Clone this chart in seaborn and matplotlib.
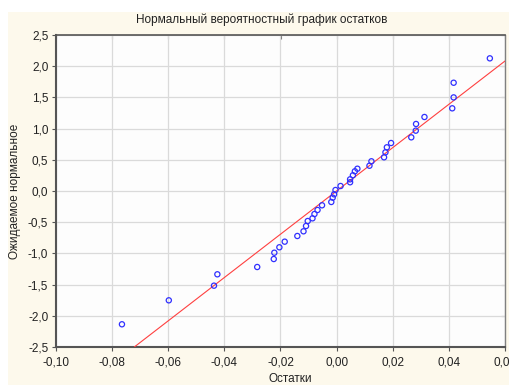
import matplotlib
matplotlib.use("Agg")
import matplotlib.pyplot as plt
import matplotlib.ticker as mticker
from matplotlib.patches import Rectangle
import seaborn as sns
import pandas as pd

residuals = [-0.0765, -0.0598, -0.0437, -0.0425, -0.0283, -0.0224, -0.0222, -0.0204,
             -0.0185, -0.0140, -0.0118, -0.0109, -0.0103, -0.0086, -0.0079, -0.0068,
             -0.0052, -0.0019, -0.0014, -0.0009, -0.0004, 0.0014, 0.0048, 0.0048,
             0.0058, 0.0065, 0.0074, 0.0117, 0.0124, 0.0169, 0.0174, 0.0179,
             0.0194, 0.0266, 0.0282, 0.0283, 0.0313, 0.0412, 0.0417, 0.0417, 0.0546]
expected_normal = [-2.136, -1.752, -1.517, -1.335, -1.218, -1.090, -0.989, -0.902,
                   -0.812, -0.721, -0.646, -0.561, -0.481, -0.438, -0.369, -0.304,
                   -0.229, -0.176, -0.107, -0.053, 0.016, 0.080, 0.140, 0.187,
                   0.252, 0.316, 0.357, 0.405, 0.476, 0.540, 0.620, 0.700,
                   0.769, 0.860, 0.967, 1.074, 1.186, 1.325, 1.500, 1.735, 2.126]
fit_x = [-0.0721, 0.0600]
fit_y = [-2.500, 2.083]
x_ticks = [-0.10, -0.08, -0.06, -0.04, -0.02, 0.00, 0.02, 0.04, 0.06]
y_ticks = [-2.5, -2.0, -1.5, -1.0, -0.5, 0.0, 0.5, 1.0, 1.5, 2.0, 2.5]

title = "Нормальный вероятностный график остатков"
xlabel = "Остатки"
ylabel = "Ожидаемое нормальное"

sns.set_theme(style="white")
plt.rcParams['font.family'] = ['Liberation Sans', 'DejaVu Sans']
plt.rcParams['font.size'] = 8.5

W, H = 510, 385
fig = plt.figure(figsize=(W / 100, H / 100), dpi=100)
fig.patch.set_facecolor("white")
fig.patches.append(Rectangle((8 / W, 0), 1 - 8 / W, 1 - 12 / H, transform=fig.transFigure,
                             facecolor="#fdf9ec", edgecolor="none", zorder=-10))

ax = fig.add_axes([56 / W, 1 - 347 / H, (505 - 56) / W, (347 - 35) / H])
ax.set_zorder(1)
ax.set_facecolor("#fdfdfd")

df = pd.DataFrame({"x": residuals, "y": expected_normal})
line_df = pd.DataFrame({"x": fit_x, "y": fit_y})

sns.lineplot(data=line_df, x="x", y="y", ax=ax, color="#ff4040", linewidth=0.8, zorder=3)
sns.scatterplot(data=df, x="x", y="y", ax=ax, marker="o", s=14, facecolor="none",
                edgecolor="#3030ff", linewidth=0.9, zorder=4)

ax.set_xlim(-0.10, 0.06)
ax.set_ylim(-2.5, 2.5)
ax.set_xticks(x_ticks)
ax.set_yticks(y_ticks)
fmt = lambda dec: mticker.FuncFormatter(lambda v, p: f"{v:.{dec}f}".replace(".", ",").replace("-0,00", "0,00"))
ax.xaxis.set_major_formatter(fmt(2))
ax.yaxis.set_major_formatter(fmt(1))
ax.grid(True, color="#dadada", linewidth=0.9)
ax.set_axisbelow(True)
ax.set_xlabel("")
ax.set_ylabel("")

for side in ["left", "bottom"]:
    ax.spines[side].set_color("#555555")
    ax.spines[side].set_linewidth(1.5)
for side in ["top", "right"]:
    ax.spines[side].set_color("#808080")
    ax.spines[side].set_linewidth(1.0)
ax.spines["top"].set_color("#555555")
ax.spines["top"].set_linewidth(1.2)

ax.tick_params(axis="both", direction="out", length=3, width=0.8, color="#555555",
               labelsize=8.5, labelcolor="#222222", pad=2.5, bottom=True, left=True)
ax.tick_params(axis="x", pad=4)

sec_x = ax.secondary_xaxis("top")
sec_x.set_xticks(x_ticks)
sec_x.tick_params(direction="in", length=3, width=0.8, color="#777777", labeltop=False)
sec_x.spines["top"].set_visible(False)
sec_y = ax.secondary_yaxis("right")
sec_y.set_yticks(y_ticks)
sec_y.tick_params(direction="in", length=3, width=0.8, color="#777777", labelright=False)
sec_y.spines["right"].set_visible(False)

fig.text(262 / W, 1 - 20 / H, title, ha="center", va="center", fontsize=8.5, color="#222222")
fig.text(290 / W, 1 - 379 / H, xlabel, ha="center", va="center", fontsize=8.5, color="#222222")
fig.text(15 / W, 1 - 191 / H, ylabel, ha="center", va="center", rotation=90, fontsize=8.5,
         color="#222222")

fig.savefig("out.png", dpi=100, facecolor=fig.get_facecolor())
